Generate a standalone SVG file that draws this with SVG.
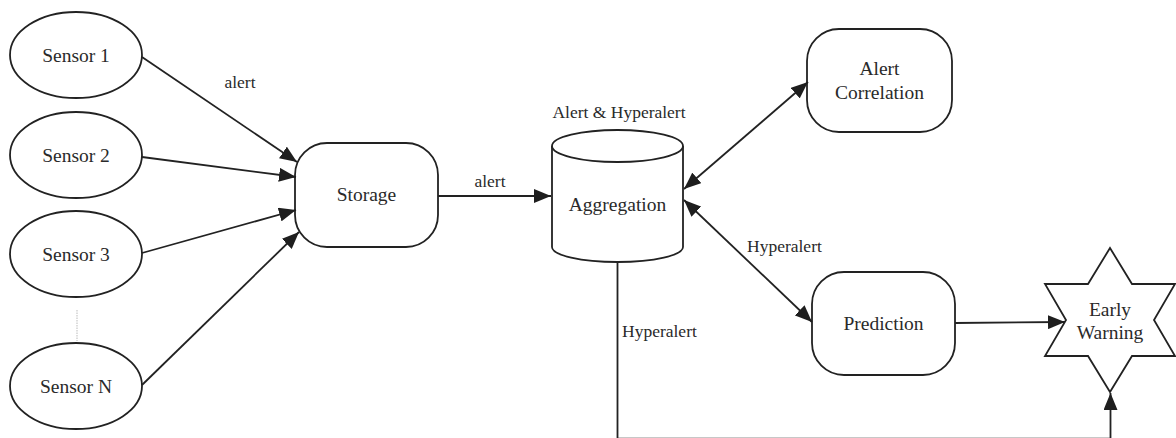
<svg xmlns="http://www.w3.org/2000/svg" width="1176" height="438" viewBox="0 0 1176 438">
  <style>
    .shape { fill: #ffffff; stroke: #222222; stroke-width: 1.8; }
    .edge { fill: none; stroke: #222222; stroke-width: 1.8; }
    .node-text { font-family: "Liberation Serif", "DejaVu Serif", "Times New Roman", serif; font-size: 19.5px; fill: #2a2a2a; text-anchor: middle; }
    .label { font-family: "Liberation Serif", "DejaVu Serif", "Times New Roman", serif; font-size: 17.5px; fill: #2a2a2a; }
    .mid { text-anchor: middle; }
  </style>
  <defs>
    <marker id="arrow" markerUnits="userSpaceOnUse" markerWidth="18" markerHeight="14" viewBox="0 0 18 14" refX="17" refY="7" orient="auto-start-reverse">
      <path d="M0,0 L17,7 L0,14 Z" fill="#1e1e1e"/>
    </marker>
  </defs>

  <rect width="1176" height="438" fill="#ffffff"/>

  <!-- sensors -->
  <g id="sensor-1">
    <ellipse class="shape" cx="76" cy="55" rx="66" ry="43"/>
    <text class="node-text" x="76" y="62">Sensor 1</text>
  </g>
  <g id="sensor-2">
    <ellipse class="shape" cx="76" cy="155" rx="66" ry="43"/>
    <text class="node-text" x="76" y="162">Sensor 2</text>
  </g>
  <g id="sensor-3">
    <ellipse class="shape" cx="76" cy="254" rx="66" ry="43"/>
    <text class="node-text" x="76" y="261">Sensor 3</text>
  </g>
  <g id="sensor-n">
    <ellipse class="shape" cx="76" cy="386" rx="66" ry="43"/>
    <text class="node-text" x="76" y="393">Sensor N</text>
  </g>
  <line x1="77" y1="310" x2="77" y2="341" stroke="#bbbbbb" stroke-width="1" stroke-dasharray="1.5 1"/>

  <!-- storage -->
  <g id="storage">
    <rect class="shape" x="295" y="143" width="143" height="104" rx="32" ry="32"/>
    <text class="node-text" x="366.5" y="201">Storage</text>
  </g>

  <!-- aggregation store -->
  <g id="aggregation">
    <path class="shape" d="M552,146 L552,247 A65.5,15 0 0 0 683,247 L683,146"/>
    <ellipse class="shape" cx="617.5" cy="146" rx="65.5" ry="16"/>
    <text class="node-text" x="617.5" y="211">Aggregation</text>
    <text class="label mid" x="619" y="118">Alert &amp; Hyperalert</text>
  </g>

  <!-- alert correlation -->
  <g id="alert-correlation">
    <rect class="shape" x="807" y="29" width="145" height="103" rx="32" ry="32"/>
    <text class="node-text" x="879.5" y="75">Alert</text>
    <text class="node-text" x="879.5" y="99">Correlation</text>
  </g>

  <!-- prediction -->
  <g id="prediction">
    <rect class="shape" x="812" y="272" width="143" height="103" rx="32" ry="32"/>
    <text class="node-text" x="883.5" y="330">Prediction</text>
  </g>

  <!-- early warning star -->
  <g id="early-warning">
    <polygon class="shape" points="1110,248 1132,284 1175,284 1154,320 1175,356 1132,356 1110,392 1088,356 1045,356 1066,320 1045,284 1088,284"/>
    <text class="node-text" x="1110" y="316">Early</text>
    <text class="node-text" x="1110" y="339">Warning</text>
  </g>

  <!-- connectors -->
  <g id="connectors">
    <line class="edge" x1="142" y1="57" x2="297" y2="162" marker-end="url(#arrow)"/>
    <line class="edge" x1="142" y1="157" x2="296" y2="177" marker-end="url(#arrow)"/>
    <line class="edge" x1="142" y1="253" x2="296" y2="210" marker-end="url(#arrow)"/>
    <line class="edge" x1="142" y1="385" x2="299" y2="232" marker-end="url(#arrow)"/>
    <line class="edge" x1="438" y1="196" x2="551" y2="196" marker-end="url(#arrow)"/>
    <line class="edge" x1="684" y1="189" x2="808" y2="82" marker-start="url(#arrow)" marker-end="url(#arrow)"/>
    <line class="edge" x1="684" y1="200" x2="812" y2="322" marker-start="url(#arrow)" marker-end="url(#arrow)"/>
    <line class="edge" x1="955" y1="323" x2="1065" y2="322" marker-end="url(#arrow)"/>
    <path class="edge" d="M617.5,263 L617.5,438.6 L1110.5,438.6 L1110.5,393" marker-end="url(#arrow)"/>
    <text class="label mid" x="240" y="88">alert</text>
    <text class="label mid" x="490" y="187">alert</text>
    <text class="label" x="747" y="252">Hyperalert</text>
    <text class="label" x="622" y="337">Hyperalert</text>
  </g>
</svg>
